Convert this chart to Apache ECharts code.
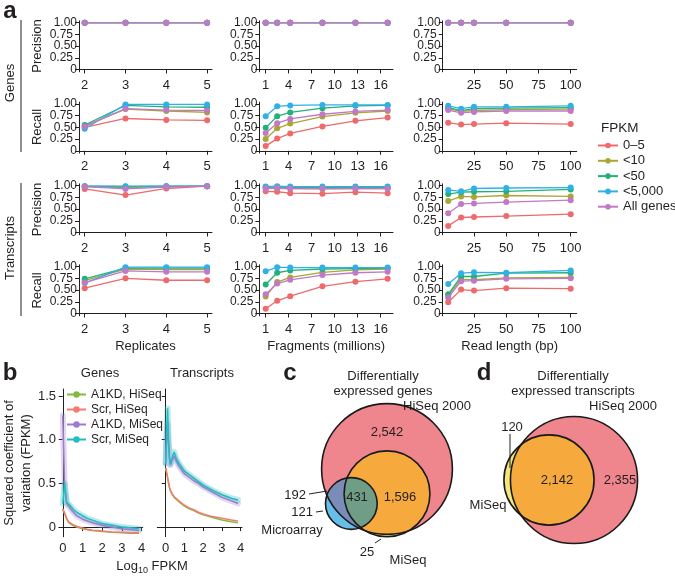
<!DOCTYPE html>
<html><head><meta charset="utf-8">
<script src="https://cdn.jsdelivr.net/npm/echarts@6/dist/echarts.min.js"></script>
<style>html,body{margin:0;padding:0;background:#fff}#c{width:675px;height:577px}</style>
</head><body><div id="c"></div>
<script>
// ---------------- DATA ----------------
const fpkmGroups = ['0–5', '<10', '<50', '<5,000', 'All genes'];
const replicates = [2, 3, 4, 5];
const fragments = [1, 2.5, 4.2, 8.4, 12.7, 16.9];
const readLengths = [5, 15, 25, 50, 100];
const replicateTicks = [2, 3, 4, 5];
const fragmentTicks = [1, 4, 7, 10, 13, 16];
const readLengthTicks = [25, 50, 75, 100];
const scoreTicks = [0, 0.25, 0.5, 0.75, 1];
const scoreLabelsA = [0, 0.5, 1];
const scoreLabelsB = [0.25, 0.75];

const genesPrecisionRep = [[1,1,1,1],[1,1,1,1],[1,1,1,1],[1,1,1,1],[1,1,1,1]];
const genesPrecisionFrag = [[1,1,1,1,1,1],[1,1,1,1,1,1],[1,1,1,1,1,1],[1,1,1,1,1,1],[1,1,1,1,1,1]];
const genesPrecisionRead = [[1,1,1,1,1],[1,1,1,1,1],[1,1,1,1,1],[1,1,1,1,1],[1,1,1,1,1]];

const genesRecallRep = [[0.50,0.69,0.66,0.65],[0.53,0.89,0.85,0.82],[0.55,0.97,0.94,0.93],[0.47,0.99,0.99,0.99],[0.52,0.90,0.87,0.86]];
const genesRecallFrag = [[0.10,0.26,0.37,0.52,0.64,0.71],[0.25,0.48,0.58,0.73,0.81,0.85],[0.49,0.74,0.82,0.91,0.96,0.97],[0.74,0.95,0.97,0.98,0.98,0.98],[0.38,0.59,0.68,0.78,0.84,0.87]];
const genesRecallRead = [[0.60,0.56,0.57,0.59,0.57],[0.90,0.84,0.86,0.88,0.89],[0.92,0.86,0.90,0.91,0.92],[0.96,0.90,0.94,0.94,0.96],[0.87,0.81,0.83,0.85,0.85]];

const txPrecisionRep = [[0.93,0.80,0.94,0.99],[0.98,0.96,0.98,0.99],[0.99,0.98,0.99,0.99],[0.99,0.99,0.99,0.99],[0.98,0.93,0.97,0.99]];
const txPrecisionFrag = [[0.88,0.87,0.84,0.83,0.86,0.84],[0.95,0.94,0.94,0.93,0.94,0.94],[0.97,0.97,0.96,0.96,0.96,0.96],[0.98,0.99,0.98,0.98,0.98,0.98],[0.94,0.95,0.94,0.94,0.94,0.94]];
const txPrecisionRead = [[0.14,0.32,0.33,0.35,0.39],[0.67,0.77,0.76,0.79,0.77],[0.82,0.86,0.87,0.88,0.92],[0.91,0.88,0.94,0.95,0.96],[0.41,0.61,0.62,0.65,0.69]];

const txRecallRep = [[0.54,0.75,0.71,0.71],[0.70,0.95,0.94,0.94],[0.74,0.97,0.97,0.97],[0.65,0.99,0.99,0.99],[0.66,0.91,0.89,0.89]];
const txRecallFrag = [[0.10,0.27,0.37,0.58,0.68,0.74],[0.36,0.67,0.77,0.88,0.93,0.95],[0.62,0.87,0.92,0.95,0.96,0.97],[0.90,0.99,0.98,0.98,0.98,0.98],[0.41,0.64,0.72,0.82,0.87,0.89]];
const txRecallRead = [[0.24,0.51,0.49,0.54,0.53],[0.38,0.73,0.72,0.76,0.77],[0.41,0.79,0.79,0.86,0.87],[0.63,0.86,0.88,0.87,0.92],[0.34,0.69,0.70,0.74,0.75]];

// panel b
const cvSeriesNames = ['A1KD, HiSeq', 'Scr, HiSeq', 'A1KD, MiSeq', 'Scr, MiSeq'];
const cvTicksX = [0, 1, 2, 3, 4];
const cvTicksY = [0, 0.5, 1, 1.5];
const cvGenesX = [0,0.1,0.2,0.3,0.4,0.5,0.7,1.0,1.25,1.5,1.75,2.0,2.5,3.0,3.5,3.85];
const cvGenesA1kdHiseq = [0.20,0.15,0.09,0.05,0.03,0.02,0.00,-0.02,-0.03,-0.04,-0.045,-0.05,-0.06,-0.065,-0.07,-0.07];
const cvGenesScrHiseq  = [0.21,0.16,0.10,0.06,0.04,0.03,0.01,-0.01,-0.025,-0.035,-0.04,-0.045,-0.055,-0.06,-0.065,-0.065];
const cvGenesA1kdMiseq = [1.28,0.45,0.27,0.24,0.21,0.18,0.13,0.09,0.07,0.05,0.035,0.02,0.00,-0.02,-0.03,-0.04];
const cvGenesScrMiseq  = [0.27,0.50,0.28,0.26,0.24,0.21,0.17,0.13,0.10,0.08,0.06,0.04,0.02,0.00,-0.01,-0.02];
const cvTxX = [0,0.05,0.1,0.15,0.2,0.25,0.35,0.45,0.55,0.7,1.0,1.25,1.5,1.75,2.0,2.5,3.0,3.5,3.85];
const cvTxA1kdHiseq = [0.68,0.62,0.56,0.50,0.45,0.41,0.37,0.34,0.32,0.29,0.24,0.21,0.19,0.16,0.14,0.11,0.08,0.06,0.05];
const cvTxScrHiseq  = [0.67,0.62,0.57,0.51,0.46,0.42,0.38,0.35,0.33,0.30,0.25,0.22,0.20,0.17,0.15,0.12,0.10,0.08,0.07];
const cvTxA1kdMiseq = [0.73,1.00,1.18,0.95,0.78,0.71,0.77,0.81,0.76,0.70,0.61,0.57,0.53,0.50,0.46,0.40,0.34,0.30,0.27];
const cvTxScrMiseq  = [0.73,1.10,1.36,1.00,0.80,0.72,0.80,0.86,0.79,0.73,0.64,0.60,0.56,0.52,0.48,0.42,0.37,0.33,0.31];

// panels c, d: region counts
const vennGenesLabels = ['2,542', '1,596', '431', '192', '121', '25'];
const vennGenesCounts = [2542, 1596, 431, 192, 121, 25]; // HiSeq only, HiSeq&MiSeq, all three, HiSeq&Microarray, Microarray only, MiSeq only
const vennTxLabels = ['2,355', '2,142', '120'];
const vennTxCounts = [2355, 2142, 120]; // HiSeq only, both, MiSeq only

// ---------------- STYLE / LAYOUT ----------------
const ink = '#231f20';
const FONT = '"Liberation Sans", Arial, Helvetica, sans-serif';
const fpkmColors = ['#ee6a6c', '#a9a631', '#22b07b', '#2fb0e6', '#c079c6'];
const cvColors = ['#84b93f', '#f47c6f', '#9c7ccb', '#22bcc1'];
const vennColors = {hiseq:'#f0868d', miseq:'#f3e77c', overlap:'#f6a93c', micro:'#66bfe9', microHiseq:'#7c8cb8', all:'#6f9d86', stroke:'#1a1a1a'};

const rowTops = [20.8, 102.1, 183.8, 264.8];
const rowHeight = 51;
const cols = [
  {x: replicates, ticks: replicateTicks, min: 1.86, max: 5.12, left: 79, width: 133, name: 'Replicates'},
  {x: fragments, ticks: fragmentTicks, min: 0.17, max: 17.6, left: 259.3, width: 133.7, name: 'Fragments (millions)'},
  {x: readLengths, ticks: readLengthTicks, min: 0.72, max: 104.65, left: 442.7, width: 134, name: 'Read length (bp)'}
];
const panelData = [
  [genesPrecisionRep, genesPrecisionFrag, genesPrecisionRead],
  [genesRecallRep, genesRecallFrag, genesRecallRead],
  [txPrecisionRep, txPrecisionFrag, txPrecisionRead],
  [txRecallRep, txRecallFrag, txRecallRead]
];

const grids = [], xAxes = [], yAxes = [], series = [];
const axisLineStyle = {show: true, lineStyle: {color: ink, width: 1}};
const pair = (xs, ys) => xs.map((v, i) => [v, ys[i]]);
const labelCommon = {showMinLabel: true, showMaxLabel: true, hideOverlap: false};
const scoreFmt = v => v === 0 ? '0' : v.toFixed(2);

for (let r = 0; r < 4; r++) {
  for (let c = 0; c < 3; c++) {
    const g = grids.length;
    const col = cols[c];
    grids.push({left: col.left, top: rowTops[r], width: col.width, height: rowHeight});
    xAxes.push({
      gridIndex: g, type: 'value', min: col.min, max: col.max,
      axisLine: axisLineStyle,
      axisTick: {show: true, length: 4, customValues: col.ticks, lineStyle: {color: ink}},
      axisLabel: Object.assign({customValues: col.ticks, color: ink, fontSize: 13, fontFamily: FONT, margin: 7}, labelCommon),
      splitLine: {show: false},
      name: r === 3 ? col.name : '', nameLocation: 'middle', nameGap: 24,
      nameTextStyle: {color: ink, fontSize: 13, fontFamily: FONT}
    });
    const yIdx = yAxes.length;
    yAxes.push({
      gridIndex: g, type: 'value', position: 'left', offset: 0, min: -0.05, max: 1.04,
      axisLine: axisLineStyle,
      axisTick: {show: true, length: 4, customValues: scoreTicks, lineStyle: {color: ink}},
      axisLabel: Object.assign({customValues: scoreLabelsA, color: ink, fontSize: 12, fontFamily: FONT, margin: 2, formatter: scoreFmt}, labelCommon),
      splitLine: {show: false}
    });
    yAxes.push({
      gridIndex: g, type: 'value', position: 'left', offset: 0, min: -0.05, max: 1.04,
      axisLine: {show: false}, axisTick: {show: false},
      axisLabel: Object.assign({customValues: scoreLabelsB, color: ink, fontSize: 12, fontFamily: FONT, margin: 6, formatter: scoreFmt}, labelCommon),
      splitLine: {show: false}
    });
    const vals = panelData[r][c];
    for (let k = 0; k < 5; k++) {
      series.push({
        type: 'line', name: fpkmGroups[k], xAxisIndex: g, yAxisIndex: yIdx,
        data: pair(col.x, vals[k]), symbol: 'circle', symbolSize: 6, showSymbol: true,
        lineStyle: {width: 1.3, color: fpkmColors[k]}, itemStyle: {color: fpkmColors[k]},
        emphasis: {disabled: true}, animation: false, z: 2 + k
      });
    }
  }
}

// panel b grids
const bGrids = [
  {left: 59, top: 389, width: 83.7, height: 147.7, xmin: -0.19, xmax: 4.05, labels: true,
   x: cvGenesX, ys: [cvGenesA1kdHiseq, cvGenesScrHiseq, cvGenesA1kdMiseq, cvGenesScrMiseq]},
  {left: 157.3, top: 389, width: 84.7, height: 147.7, xmin: -0.45, xmax: 4.07, labels: false,
   x: cvTxX, ys: [cvTxA1kdHiseq, cvTxScrHiseq, cvTxA1kdMiseq, cvTxScrMiseq]}
];
bGrids.forEach(b => {
  const g = grids.length;
  grids.push({left: b.left, top: b.top, width: b.width, height: b.height});
  xAxes.push({gridIndex: g, type: 'value', min: b.xmin, max: b.xmax, axisLine: axisLineStyle,
    axisTick: {show: true, length: 4, customValues: cvTicksX, lineStyle: {color: ink}},
    axisLabel: Object.assign({customValues: cvTicksX, color: ink, fontSize: 13, fontFamily: FONT, margin: 5}, labelCommon),
    splitLine: {show: false}});
  const yIdx = yAxes.length;
  yAxes.push({gridIndex: g, type: 'value', position: 'left', min: -0.11, max: 1.58, axisLine: axisLineStyle,
    axisTick: {show: true, length: 4, customValues: cvTicksY, lineStyle: {color: ink}},
    axisLabel: Object.assign({show: b.labels, customValues: cvTicksY, color: ink, fontSize: 13, fontFamily: FONT, margin: 3,
      formatter: v => v === 0 ? '0' : v.toFixed(1)}, labelCommon),
    splitLine: {show: false}});
  [2, 3].forEach(k => series.push({type: 'line', name: cvSeriesNames[k] + ' band', xAxisIndex: g, yAxisIndex: yIdx,
    data: pair(b.x, b.ys[k]), showSymbol: false, symbol: 'none', lineStyle: {width: 6, color: cvColors[k], opacity: 0.3, cap: 'round', join: 'round'},
    emphasis: {disabled: true}, animation: false, z: 1}));
  b.ys.forEach((ys, k) => series.push({type: 'line', name: cvSeriesNames[k], xAxisIndex: g, yAxisIndex: yIdx,
    data: pair(b.x, ys), showSymbol: false, symbol: 'none', lineStyle: {width: 1.5, color: cvColors[k]}, itemStyle: {color: cvColors[k]},
    emphasis: {disabled: true}, animation: false, z: 2 + k}));
});

// ---------- Venn geometry derived from counts (area = count) ----------
function lensArea(d, r1, r2) {
  if (d >= r1 + r2) return 0;
  if (d <= Math.abs(r1 - r2)) return Math.PI * Math.min(r1, r2) ** 2;
  const a1 = r1 * r1 * Math.acos((d * d + r1 * r1 - r2 * r2) / (2 * d * r1));
  const a2 = r2 * r2 * Math.acos((d * d + r2 * r2 - r1 * r1) / (2 * d * r2));
  const t = 0.5 * Math.sqrt((-d + r1 + r2) * (d + r1 - r2) * (d - r1 + r2) * (d + r1 + r2));
  return a1 + a2 - t;
}
function distanceFor(area, r1, r2) {
  let lo = Math.abs(r1 - r2), hi = r1 + r2;
  for (let i = 0; i < 80; i++) { const m = (lo + hi) / 2; if (lensArea(m, r1, r2) > area) lo = m; else hi = m; }
  return (lo + hi) / 2;
}
const rad = n => Math.sqrt(n / Math.PI);
const [gH, gHM, gAll, gHMi, gMi, gM] = vennGenesCounts;
const gR = {hiseq: rad(gH + gHM + gAll + gHMi), miseq: rad(gHM + gAll + gM), micro: rad(gHMi + gAll + gMi)};
const dHM = distanceFor(gHM + gAll, gR.hiseq, gR.miseq);
const dHMi = distanceFor(gHMi + gAll, gR.hiseq, gR.micro);
const dMMi = distanceFor(gAll, gR.miseq, gR.micro);
const miY = (dMMi * dMMi - dHMi * dHMi - dHM * dHM) / (2 * dHM);
const genesCircles = {
  hiseq: [0, 0, gR.hiseq],
  miseq: [0, -dHM, gR.miseq],
  micro: [-Math.sqrt(Math.max(0, dHMi * dHMi - miY * miY)), miY, gR.micro]
};
const [tH, tB, tM] = vennTxCounts;
const tR = {hiseq: rad(tH + tB), miseq: rad(tB + tM)};
const dT = distanceFor(tB, tR.hiseq, tR.miseq);
const txCircles = {hiseq: [0, 0, tR.hiseq], miseq: [-dT, 0, tR.miseq]};

function arcPts(c, r, a0, a1, n) {
  const p = [];
  for (let i = 0; i <= n; i++) { const t = a0 + (a1 - a0) * i / n; p.push([c[0] + r * Math.cos(t), c[1] + r * Math.sin(t)]); }
  return p;
}
function lensPts(c1, r1, c2, r2) {
  const dx = c2[0] - c1[0], dy = c2[1] - c1[1], d = Math.hypot(dx, dy);
  if (d + Math.min(r1, r2) <= Math.max(r1, r2)) return r1 < r2 ? arcPts(c1, r1, 0, 2 * Math.PI, 120) : arcPts(c2, r2, 0, 2 * Math.PI, 120);
  const th = Math.atan2(dy, dx);
  const a = (d * d + r1 * r1 - r2 * r2) / (2 * d);
  const h = Math.sqrt(Math.max(0, r1 * r1 - a * a));
  const b = d - a;
  const al = Math.atan2(h, a), be = Math.atan2(h, b);
  return arcPts(c1, r1, th + al, th - al, 90).concat(arcPts(c2, r2, th + Math.PI + be, th + Math.PI - be, 90));
}
function toPx(api, c) { const p = api.coord([c[0], c[1]]); return {c: p, r: api.size([c[2], 0])[0]}; }
function fillCircle(p, color) { return {type: 'circle', shape: {cx: p.c[0], cy: p.c[1], r: p.r}, style: {fill: color}}; }
function strokeCircle(p) { return {type: 'circle', shape: {cx: p.c[0], cy: p.c[1], r: p.r}, style: {fill: 'none', stroke: vennColors.stroke, lineWidth: 1.6}}; }
function lens(p, q, color) { return {type: 'polygon', shape: {points: lensPts(p.c, p.r, q.c, q.r)}, style: {fill: color}}; }

const vennScale = 1.68; // px per unit
function vennAxes(left, top, width, height, cx, cy) {
  const g = grids.length;
  grids.push({left, top, width, height});
  const xmin = -(cx - left) / vennScale, ymax = (cy - top) / vennScale;
  xAxes.push({gridIndex: g, type: 'value', show: false, min: xmin, max: xmin + width / vennScale});
  const yIdx = yAxes.length;
  yAxes.push({gridIndex: g, type: 'value', show: false, min: ymax - height / vennScale, max: ymax});
  return [g, yIdx];
}
const [gC, yC] = vennAxes(262, 395, 210, 175, 387, 469);
series.push({type: 'custom', coordinateSystem: 'cartesian2d', xAxisIndex: gC, yAxisIndex: yC, data: [[0, 0]], silent: true, animation: false,
  renderItem: (params, api) => {
    const H = toPx(api, genesCircles.hiseq), M = toPx(api, genesCircles.miseq), A = toPx(api, genesCircles.micro);
    return {type: 'group', children: [
      fillCircle(A, vennColors.micro), fillCircle(M, vennColors.miseq), fillCircle(H, vennColors.hiseq),
      lens(M, H, vennColors.overlap), lens(A, H, vennColors.microHiseq), lens(A, M, vennColors.all),
      strokeCircle(H), strokeCircle(M), strokeCircle(A)]};
  }});
const [gD, yD] = vennAxes(490, 395, 170, 175, 574, 480);
series.push({type: 'custom', coordinateSystem: 'cartesian2d', xAxisIndex: gD, yAxisIndex: yD, data: [[0, 0]], silent: true, animation: false,
  renderItem: (params, api) => {
    const H = toPx(api, txCircles.hiseq), M = toPx(api, txCircles.miseq);
    return {type: 'group', children: [
      fillCircle(M, vennColors.miseq), fillCircle(H, vennColors.hiseq), lens(M, H, vennColors.overlap),
      strokeCircle(H), strokeCircle(M)]};
  }});

// ---------------- TEXT ----------------
function txt(text, x, y, o = {}) {
  return {type: 'text', x, y, rotation: o.rot || 0, silent: true, z: 100,
    style: {text, fill: ink, fontSize: o.size || 13, fontFamily: FONT, fontWeight: o.bold ? 'bold' : 'normal',
      align: o.align || 'center', verticalAlign: o.va || 'middle', lineHeight: o.lh || undefined, rich: o.rich}};
}
function seg(x1, y1, x2, y2) { return {type: 'line', silent: true, z: 100, shape: {x1, y1, x2, y2}, style: {stroke: ink, lineWidth: 1}}; }
const R90 = Math.PI / 2;
const graphic = [
  txt('a', 10, 11, {size: 24, bold: true}),
  txt('Genes', 10, 83, {rot: R90}), seg(21, 20, 21, 152),
  txt('Transcripts', 10, 248, {rot: R90}), seg(21, 183, 21, 316),
  txt('Precision', 37, 46, {rot: R90}), txt('Recall', 37, 127, {rot: R90}),
  txt('Precision', 37, 209.5, {rot: R90}), txt('Recall', 37, 290.5, {rot: R90}),
  txt('FPKM', 601, 128, {align: 'left', size: 13.5}),
  txt('b', 10, 373, {size: 24, bold: true}),
  txt('Genes', 100, 373), txt('Transcripts', 202, 373),
  txt('Squared coefficient of\nvariation (FPKM)', 18, 463, {rot: R90, lh: 17}),
  txt('{a|Log}{s|10}{a| FPKM}', 152, 566, {rich: {a: {fontSize: 13, fontFamily: FONT, fill: ink, lineHeight: 18}, s: {fontSize: 9, fontFamily: FONT, fill: ink, lineHeight: 8, verticalAlign: 'bottom'}}}),
  txt('c', 290, 373, {size: 24, bold: true}),
  txt('Differentially', 383, 376), txt('expressed genes', 383, 391.5),
  txt('HiSeq 2000', 437, 406),
  txt(vennGenesLabels[0], 387, 432), txt(vennGenesLabels[1], 400, 497), txt(vennGenesLabels[2], 357, 497),
  txt(vennGenesLabels[3], 306, 495, {align: 'right'}), seg(309, 494, 327, 491),
  txt(vennGenesLabels[4], 313, 512, {align: 'right'}), seg(316, 512, 323, 511),
  txt('Microarray', 292, 530),
  txt(vennGenesLabels[5], 367, 552), seg(375, 543, 381, 539),
  txt('MiSeq', 408, 560),
  txt('d', 484, 373, {size: 24, bold: true}),
  txt('Differentially', 573, 376), txt('expressed transcripts', 573, 391.5),
  txt('HiSeq 2000', 623, 406),
  txt(vennTxLabels[2], 512, 427.5), seg(510, 434, 510, 468),
  txt(vennTxLabels[1], 557, 480), txt(vennTxLabels[0], 620, 480),
  txt('MiSeq', 488, 505)
];

const chart = echarts.init(document.getElementById('c'), null, {renderer: 'canvas'});
chart.setOption({
  animation: false,
  backgroundColor: '#fff',
  textStyle: {fontFamily: FONT, color: ink},
  grid: grids, xAxis: xAxes, yAxis: yAxes, series,
  legend: [
    {data: fpkmGroups, orient: 'vertical', left: 597, top: 139, padding: 0, itemWidth: 20, itemHeight: 7, itemGap: 2.3, selectedMode: false,
     textStyle: {fontSize: 13, color: ink, fontFamily: FONT, lineHeight: 13}},
    {data: cvSeriesNames, orient: 'vertical', left: 66, top: 388, padding: 0, itemWidth: 19, itemHeight: 8, itemGap: 2, selectedMode: false,
     textStyle: {fontSize: 12, color: ink, fontFamily: FONT, lineHeight: 13}}
  ],
  graphic
});
</script></body></html>
